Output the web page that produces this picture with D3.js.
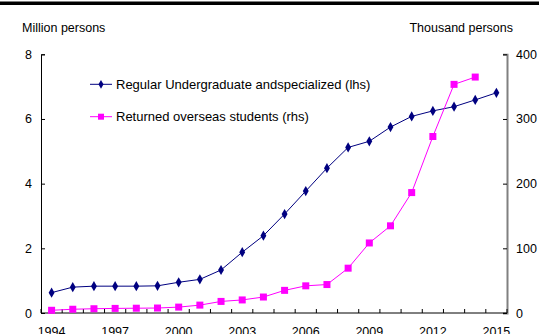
<!DOCTYPE html>
<html><head><meta charset="utf-8">
<script src="https://cdn.jsdelivr.net/npm/d3@7"></script>
<style>body{margin:0;background:#fff}svg{display:block;font-family:"Liberation Sans",Arial,sans-serif}</style>
</head><body>
<script>
const years = d3.range(1994, 2016);
const graduates = [0.63,0.80,0.83,0.83,0.83,0.84,0.95,1.04,1.33,1.88,2.39,3.06,3.77,4.48,5.12,5.31,5.75,6.08,6.25,6.38,6.59,6.81];
const returned = [4.2,5.8,6.6,7.1,7.4,7.7,9.1,12.2,17.9,20.2,24.7,35.0,42.0,44.0,69.3,108.3,134.8,186.2,272.9,353.5,364.8];
const leftTicks = [0,2,4,6,8];
const rightTicks = [0,100,200,300,400];
const xLabels = [1994,1997,2000,2003,2006,2009,2012,2015];
const seriesNames = ["Regular Undergraduate andspecialized (lhs)","Returned overseas students (rhs)"];

const W=539,H=334, L=41, R=507, T=54.3, B=313;
const FS=12.5;
const svg=d3.select("body").append("svg").attr("width",W).attr("height",H);
svg.append("rect").attr("x",0).attr("y",1.5).attr("width",W).attr("height",3.5).attr("fill","#000");

const x=d3.scaleBand().domain(years).range([L,R]);
const yL=d3.scaleLinear().domain([0,8]).range([B,T]);
const yR=d3.scaleLinear().domain([0,400]).range([B,T]);
const cx=d=>x(d)+x.bandwidth()/2;

svg.append("text").attr("x",22).attr("y",32).attr("font-size",FS).text("Million persons");
svg.append("text").attr("x",513).attr("y",32).attr("font-size",FS).attr("text-anchor","end").text("Thousand persons");

// left axis
const gl=svg.append("g").attr("transform",`translate(${L},0)`)
  .call(d3.axisLeft(yL).tickValues(leftTicks).tickSize(-4).tickPadding(9).tickFormat(d3.format("d")));
gl.select(".domain").attr("stroke","#000");
gl.selectAll("text").attr("font-size",FS).attr("font-family","Liberation Sans, Arial").attr("fill","#000");
// right axis
const gr=svg.append("g").attr("transform",`translate(${R},0)`)
  .call(d3.axisRight(yR).tickValues(rightTicks).tickSize(-4).tickPadding(9).tickFormat(d3.format("d")));
gr.select(".domain").attr("stroke","#808080").attr("stroke-width",2);
gr.selectAll(".tick line").attr("stroke","#000");
gr.selectAll("text").attr("font-size",FS).attr("font-family","Liberation Sans, Arial").attr("fill","#000");
// bottom axis
const bx=svg.append("g").attr("transform",`translate(0,${B})`);
bx.append("line").attr("x1",L).attr("x2",R).attr("stroke","#000");
const bounds=years.map(y=>x(y)).concat([R]);
bx.selectAll("line.t").data(bounds).enter().append("line").attr("class","t")
  .attr("x1",d=>d).attr("x2",d=>d).attr("y1",0).attr("y2",-4).attr("stroke","#000");
bx.selectAll("text").data(xLabels).enter().append("text")
  .attr("x",d=>cx(d)).attr("y",23).attr("text-anchor","middle").attr("font-size",FS).text(d=>d);

// graduates line
const blue="#000080", pink="#FF00FF";
svg.append("path").datum(graduates).attr("fill","none").attr("stroke",blue).attr("stroke-width",1)
  .attr("d",d3.line().x((d,i)=>cx(years[i])).y(d=>yL(d)));
svg.selectAll("path.dm").data(graduates).enter().append("path").attr("class","dm")
  .attr("d",d3.symbol(d3.symbolDiamond,30)).attr("fill",blue)
  .attr("transform",(d,i)=>`translate(${cx(years[i])},${yL(d)})`);
// returned line
svg.append("path").datum(returned).attr("fill","none").attr("stroke",pink).attr("stroke-width",1)
  .attr("d",d3.line().x((d,i)=>cx(years[i])).y(d=>yR(d)));
svg.selectAll("rect.sq").data(returned).enter().append("rect").attr("class","sq")
  .attr("x",(d,i)=>cx(years[i])-3.5).attr("y",d=>yR(d)-3.5).attr("width",7).attr("height",7).attr("fill",pink);

// legend
const lg=[{y:84.3,c:blue,m:"d"},{y:116.7,c:pink,m:"s"}];
lg.forEach((l,i)=>{
  svg.append("line").attr("x1",90).attr("x2",112).attr("y1",l.y).attr("y2",l.y).attr("stroke",l.c);
  if(l.m==="d") svg.append("path").attr("d",d3.symbol(d3.symbolDiamond,22)).attr("fill",l.c).attr("transform",`translate(101,${l.y})`);
  else svg.append("rect").attr("x",98).attr("y",l.y-3).attr("width",6).attr("height",6).attr("fill",l.c);
  svg.append("text").attr("x",116).attr("y",l.y+4.5).attr("font-size",13).text(seriesNames[i]);
});
</script>
</body></html>
